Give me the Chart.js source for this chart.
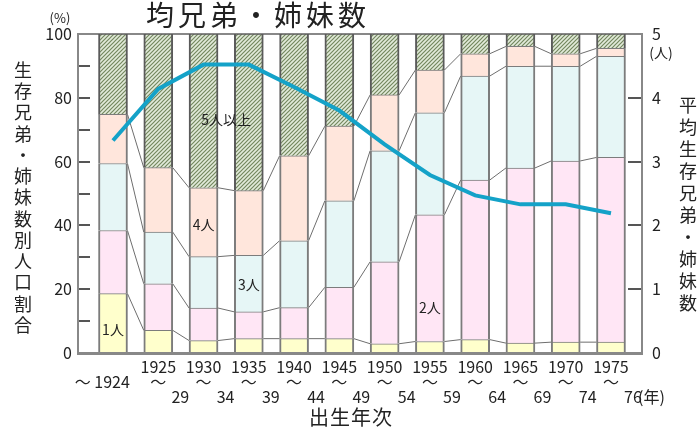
<!DOCTYPE html>
<html lang="ja">
<head>
<meta charset="UTF-8" />
<title>均兄弟・姉妹数</title>
<style>
    body { margin: 0; background: #fff; }
    #wrap { position: relative; width: 699px; height: 428px; }
</style>
</head>
<body>
<div id="wrap"><canvas id="chart"></canvas></div>
<script src="https://cdn.jsdelivr.net/npm/chart.js@4.4.0/dist/chart.umd.min.js"></script>
<script>
// birth cohorts: start year (top line) and end year (bottom line)
const startYears = ['', '1925', '1930', '1935', '1940', '1945', '1950', '1955', '1960', '1965', '1970', '1975'];
const endYears = ['', '29', '34', '39', '44', '49', '54', '59', '64', '69', '74', '76'];

// share of population by number of surviving siblings (%)
const one  = [18.6, 7.1, 3.9, 4.5, 4.5, 4.5, 2.9, 3.6, 4.2, 3.1, 3.4, 3.4];
const two  = [19.8, 14.6, 10.2, 8.4, 9.7, 16.1, 25.7, 39.7, 50.0, 54.9, 56.8, 57.9];
const three = [21.0, 16.2, 16.1, 17.7, 21.0, 27.1, 34.8, 32.0, 32.6, 31.9, 29.7, 31.7];
const four = [15.4, 20.2, 21.6, 20.3, 26.6, 23.4, 17.5, 13.4, 7.0, 6.2, 3.9, 2.5];
const fivePlus = [25.2, 41.9, 48.2, 49.1, 38.2, 28.9, 19.1, 11.3, 6.2, 3.9, 6.2, 4.5];

// average number of surviving siblings (人)
const average = [3.33, 4.14, 4.52, 4.52, 4.17, 3.80, 3.27, 2.79, 2.47, 2.33, 2.33, 2.19];

const FONT = '"Noto Sans CJK JP", "Noto Sans", sans-serif';
Chart.defaults.font.family = FONT;
Chart.defaults.color = '#333';

const canvas = document.getElementById('chart');
const ctx = canvas.getContext('2d');

function hatch() {
    const c = document.createElement('canvas');
    c.width = 4;
    c.height = 4;
    const g = c.getContext('2d');
    g.fillStyle = '#e2ebda';
    g.fillRect(0, 0, 4, 4);
    g.strokeStyle = '#74875f';
    g.lineWidth = 1.2;
    g.beginPath();
    g.moveTo(0, 4); g.lineTo(4, 0);
    g.moveTo(-1, 1); g.lineTo(1, -1);
    g.moveTo(3, 5); g.lineTo(5, 3);
    g.stroke();
    return ctx.createPattern(c, 'repeat');
}

const pts = arr => arr.map((v, i) => ({ x: i, y: v }));

function barSet(label, values, color, edge) {
    return {
        type: 'bar',
        label: label,
        data: pts(values),
        backgroundColor: color,
        borderColor: edge || '#7c7c7c',
        borderWidth: { left: 2, right: 2, top: 1, bottom: 0 },
        barThickness: 29,
        xAxisID: 'x',
        yAxisID: 'y',
        stack: 'share',
        order: 1
    };
}

// thin lines joining the segment tops of neighbouring bars
const connectors = {
    id: 'connectors',
    beforeDatasetsDraw(chart) {
        const c = chart.ctx;
        c.save();
        c.strokeStyle = '#6e6e6e';
        c.lineWidth = 1;
        for (let d = 0; d < 4; d++) {
            const bars = chart.getDatasetMeta(d).data;
            c.beginPath();
            for (let i = 0; i < bars.length - 1; i++) {
                const a = bars[i], b = bars[i + 1];
                c.moveTo(a.x + a.width / 2, a.y);
                c.lineTo(b.x - b.width / 2, b.y);
            }
            c.stroke();
        }
        c.restore();
    }
};

const texts = {
    id: 'texts',
    afterDraw(chart) {
        const c = chart.ctx;
        const xs = chart.scales.x, ys = chart.scales.y;
        c.save();
        c.fillStyle = '#222';
        c.textAlign = 'center';
        c.textBaseline = 'middle';

        // title
        c.font = '28px ' + FONT;
        c.letterSpacing = '4px';
        c.fillText('均兄弟・姉妹数', 258, 15);
        c.letterSpacing = '0px';

        // units
        c.font = '13px ' + FONT;
        c.fillText('(%)', 60, 18);
        c.font = '14px ' + FONT;
        c.fillText('(人)', 661, 53);

        // vertical axis titles
        c.font = '18px ' + FONT;
        Array.from('生存兄弟・姉妹数別人口割合').forEach((ch, k) => c.fillText(ch, 23, 70 + k * 21.25));
        Array.from('平均生存兄弟・姉妹数').forEach((ch, k) => c.fillText(ch, 688, 105 + k * 22));

        // x axis title
        c.font = '20px ' + FONT;
        c.letterSpacing = '1px';
        c.fillText('出生年次', 351, 417);
        c.letterSpacing = '0px';

        // end years of each cohort
        c.font = '16px ' + FONT;
        endYears.forEach((t, i) => {
            if (t) c.fillText(t, xs.getPixelForValue(i) + 22, 397);
        });
        c.textAlign = 'left';
        c.fillText('(年)', 638, 397);

        // segment labels
        c.textAlign = 'center';
        c.font = '14px ' + FONT;
        c.fillText('1人', xs.getPixelForValue(0), ys.getPixelForValue(7.3));
        c.fillText('2人', xs.getPixelForValue(7), ys.getPixelForValue(14.2));
        c.fillText('3人', xs.getPixelForValue(3), ys.getPixelForValue(21.3));
        c.fillText('4人', xs.getPixelForValue(2), ys.getPixelForValue(40.1));
        c.fillText('5人以上', xs.getPixelForValue(2.5), ys.getPixelForValue(73));
        c.restore();
    }
};

new Chart(canvas, {
    data: {
        datasets: [
            barSet('1人', one, '#ffffcc'),
            barSet('2人', two, '#ffe6f5'),
            barSet('3人', three, '#e6f6f6'),
            barSet('4人', four, '#ffe6dc'),
            barSet('5人以上', fivePlus, hatch(), '#5a5a5a'),
            {
                type: 'line',
                label: '平均生存兄弟・姉妹数',
                data: pts(average),
                borderColor: '#14a2c8',
                borderWidth: 4,
                pointRadius: 0,
                tension: 0,
                xAxisID: 'x',
                yAxisID: 'y1',
                order: 0
            }
        ]
    },
    options: {
        responsive: true,
        maintainAspectRatio: false,
        animation: false,
        layout: { padding: { top: 34, left: 0, right: 0, bottom: 0 } },
        plugins: {
            legend: { display: false },
            tooltip: { enabled: false }
        },
        scales: {
            x: {
                type: 'linear',
                position: 'bottom',
                stacked: true,
                offset: false,
                min: -0.773,
                max: 11.685,
                afterBuildTicks: scale => {
                    scale.ticks = startYears.map((_, i) => ({ value: i }));
                },
                afterFit: scale => { scale.height = 75; },
                grid: { display: false, drawTicks: false },
                border: { display: true, color: '#888', width: 3 },
                ticks: {
                    autoSkip: false,
                    maxRotation: 0,
                    padding: 6,
                    color: '#222',
                    font: { size: 16, lineHeight: 0.95 },
                    callback: v => v === 0 ? ['', '〜 1924      '] : [startYears[v], '〜']
                }
            },
            xt: {
                type: 'linear',
                position: 'top',
                offset: false,
                min: -0.773,
                max: 11.685,
                afterFit: scale => { scale.height = 0; },
                grid: { display: false, drawTicks: false },
                border: { display: true, color: '#888', width: 2 },
                ticks: { display: false }
            },
            y: {
                position: 'left',
                stacked: true,
                min: 0,
                max: 100,
                afterFit: scale => { scale.width = 78; },
                grid: { drawOnChartArea: false, drawTicks: true, tickLength: -12, color: '#555', lineWidth: 2 },
                border: { display: true, color: '#888', width: 2 },
                ticks: {
                    stepSize: 10,
                    padding: 18,
                    color: '#222',
                    font: { size: 16 },
                    callback: v => v % 20 === 0 ? v : ''
                }
            },
            y1: {
                position: 'right',
                min: 0,
                max: 5,
                afterFit: scale => { scale.width = 57; },
                grid: { drawOnChartArea: false, drawTicks: true, tickLength: -14, color: '#555', lineWidth: 2 },
                border: { display: true, color: '#888', width: 2 },
                ticks: {
                    stepSize: 1,
                    padding: 24,
                    color: '#222',
                    font: { size: 16 }
                }
            }
        }
    },
    plugins: [connectors, texts]
});
</script>
</body>
</html>
